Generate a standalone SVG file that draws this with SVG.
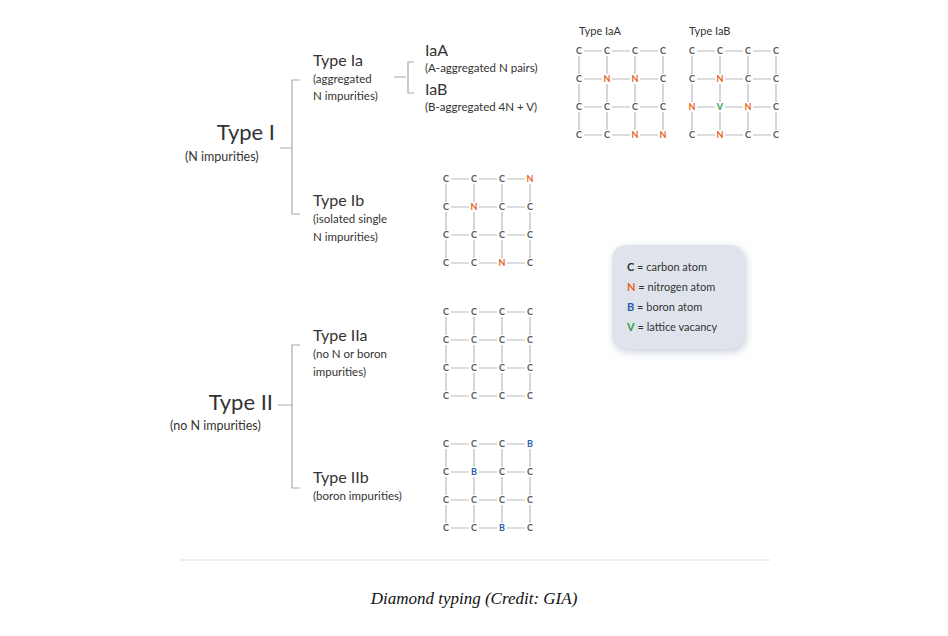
<svg xmlns="http://www.w3.org/2000/svg" width="948" height="636" viewBox="0 0 948 636">
<style>
text{font-family:Lato,"Open Sans","Liberation Sans",sans-serif;fill:#333}
.h1{font-size:22px}
.h2{font-size:16px}
.s{font-size:12.5px}
.t{font-size:11.5px}
.a{font-size:9px;text-anchor:middle;font-weight:bold;fill:#555}
.n{fill:#e8621e}.b{fill:#2a5ea8}.v{fill:#2e9e44}
.br{stroke:#aaa;stroke-width:1.2;fill:none}
.lat line{stroke:#bbb;stroke-width:1.2;stroke-dasharray:0 5 18 5}
</style>
<defs>
<g id="lat" class="lat">
<line x1="0" y1="0" x2="84" y2="0"/><line x1="0" y1="28" x2="84" y2="28"/><line x1="0" y1="56" x2="84" y2="56"/><line x1="0" y1="84" x2="84" y2="84"/>
<line x1="0" y1="0" x2="0" y2="84"/><line x1="28" y1="0" x2="28" y2="84"/><line x1="56" y1="0" x2="56" y2="84"/><line x1="84" y1="0" x2="84" y2="84"/>
</g>
<g id="row"><text x="0" y="3" class="a">C</text><text x="28" y="3" class="a">C</text><text x="56" y="3" class="a">C</text><text x="84" y="3" class="a">C</text></g>
<filter id="sh" x="-20%" y="-20%" width="140%" height="140%"><feGaussianBlur stdDeviation="4"/></filter>
</defs>
<rect width="948" height="636" fill="#fff"/>
<line x1="180" y1="560" x2="770" y2="560" stroke="#e6e9ee" stroke-width="1.5"/>

<g id="connectors">
<path class="br" d="M280,148 H292 M300,80 H292 V214 H300"/>
<path class="br" d="M394,77 H406 M414,62 H408 V93 H414"/>
<path class="br" d="M278,405 H292 M300,345 H292 V488 H300"/>
</g>

<g id="typeI"><text x="275" y="140" class="h1" text-anchor="end">Type I</text><text x="185" y="161" class="s">(N impurities)</text></g>
<g id="typeIa"><text x="313" y="66" class="h2">Type Ia</text><text x="313" y="83" class="t">(aggregated</text><text x="313" y="100" class="t">N impurities)</text></g>
<g id="IaA"><text x="425" y="56" class="h2">IaA</text><text x="425" y="72" class="t">(A-aggregated N pairs)</text></g>
<g id="IaB"><text x="425" y="95" class="h2">IaB</text><text x="425" y="111" class="t">(B-aggregated 4N + V)</text></g>
<g id="typeIb"><text x="313" y="206" class="h2">Type Ib</text><text x="313" y="223" class="t">(isolated single</text><text x="313" y="241" class="t">N impurities)</text></g>
<g id="typeII"><text x="273" y="410" class="h1" text-anchor="end">Type II</text><text x="170" y="430" class="s">(no N impurities)</text></g>
<g id="typeIIa"><text x="313" y="341" class="h2">Type IIa</text><text x="313" y="358" class="t">(no N or boron</text><text x="313" y="376" class="t"> impurities)</text></g>
<g id="typeIIb"><text x="313" y="483" class="h2">Type IIb</text><text x="313" y="500" class="t">(boron impurities)</text></g>

<g id="latIaA" transform="translate(579,51)">
<text x="0" y="-16" class="t" style="font-size:11px">Type IaA</text>
<use href="#lat"/>
<use href="#row"/>
<text x="0" y="31" class="a">C</text><text x="28" y="31" class="a n">N</text><text x="56" y="31" class="a n">N</text><text x="84" y="31" class="a">C</text>
<use href="#row" y="56"/>
<text x="0" y="87" class="a">C</text><text x="28" y="87" class="a">C</text><text x="56" y="87" class="a n">N</text><text x="84" y="87" class="a n">N</text>
</g>
<g id="latIaB" transform="translate(692,51)">
<text x="-3" y="-16" class="t" style="font-size:11px">Type IaB</text>
<use href="#lat"/>
<use href="#row"/>
<text x="0" y="31" class="a">C</text><text x="28" y="31" class="a n">N</text><text x="56" y="31" class="a">C</text><text x="84" y="31" class="a">C</text>
<text x="0" y="59" class="a n">N</text><text x="28" y="59" class="a v">V</text><text x="56" y="59" class="a n">N</text><text x="84" y="59" class="a">C</text>
<text x="0" y="87" class="a">C</text><text x="28" y="87" class="a n">N</text><text x="56" y="87" class="a">C</text><text x="84" y="87" class="a">C</text>
</g>
<g id="latIb" transform="translate(446,179)">
<use href="#lat"/>
<text x="0" y="3" class="a">C</text><text x="28" y="3" class="a">C</text><text x="56" y="3" class="a">C</text><text x="84" y="3" class="a n">N</text>
<text x="0" y="31" class="a">C</text><text x="28" y="31" class="a n">N</text><text x="56" y="31" class="a">C</text><text x="84" y="31" class="a">C</text>
<use href="#row" y="56"/>
<text x="0" y="87" class="a">C</text><text x="28" y="87" class="a">C</text><text x="56" y="87" class="a n">N</text><text x="84" y="87" class="a">C</text>
</g>
<g id="latIIa" transform="translate(446,312)">
<use href="#lat"/>
<use href="#row"/><use href="#row" y="28"/><use href="#row" y="56"/><use href="#row" y="84"/>
</g>
<g id="latIIb" transform="translate(446,444)">
<use href="#lat"/>
<text x="0" y="3" class="a">C</text><text x="28" y="3" class="a">C</text><text x="56" y="3" class="a">C</text><text x="84" y="3" class="a b">B</text>
<text x="0" y="31" class="a">C</text><text x="28" y="31" class="a b">B</text><text x="56" y="31" class="a">C</text><text x="84" y="31" class="a">C</text>
<use href="#row" y="56"/>
<text x="0" y="87" class="a">C</text><text x="28" y="87" class="a">C</text><text x="56" y="87" class="a b">B</text><text x="84" y="87" class="a">C</text>
</g>

<g id="legend">
<rect x="614" y="248" width="132" height="104" rx="14" fill="#c9d0da" filter="url(#sh)"/>
<rect x="612" y="245" width="132" height="104" rx="14" fill="#dfe4ec"/>
<text x="627" y="271" class="t" style="font-size:11px"><tspan font-weight="bold">C</tspan> = carbon atom</text>
<text x="627" y="291" class="t" style="font-size:11px"><tspan font-weight="bold" class="n">N</tspan> = nitrogen atom</text>
<text x="627" y="311" class="t" style="font-size:11px"><tspan font-weight="bold" class="b">B</tspan> = boron atom</text>
<text x="627" y="331" class="t" style="font-size:11px"><tspan font-weight="bold" class="v">V</tspan> = lattice vacancy</text>
</g>

<text x="474" y="604" text-anchor="middle" style="font-family:'Liberation Serif',serif;font-style:italic;font-size:17px;fill:#111">Diamond typing (Credit: GIA)</text>
</svg>
